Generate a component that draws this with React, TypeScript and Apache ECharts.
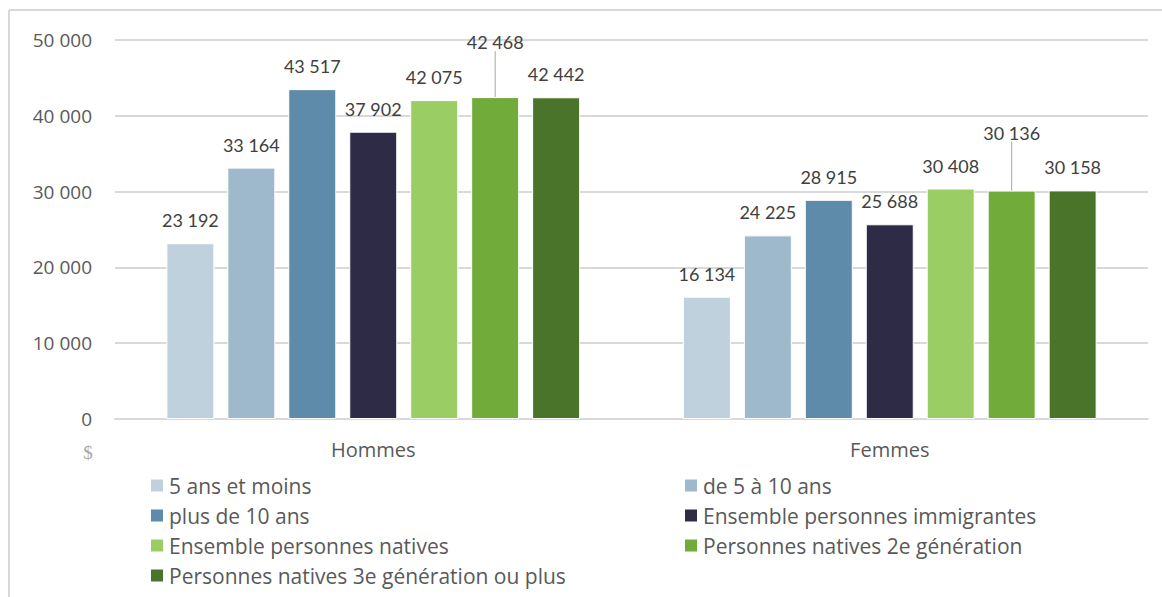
import React, { useEffect, useRef } from "react";
import * as echarts from "echarts";

const categories = ["Hommes", "Femmes"];
const seriesNames = [
  "5 ans et moins",
  "de 5 à 10 ans",
  "plus de 10 ans",
  "Ensemble personnes immigrantes",
  "Ensemble personnes natives",
  "Personnes natives 2e génération",
  "Personnes natives 3e génération ou plus",
];
const s0 = [23192, 16134];
const s1 = [33164, 24225];
const s2 = [43517, 28915];
const s3 = [37902, 25688];
const s4 = [42075, 30408];
const s5 = [42468, 30136];
const s6 = [42442, 30158];
const seriesValues = [s0, s1, s2, s3, s4, s5, s6];
const colors = ["#bfd1dd", "#9fb9cc", "#5f8bab", "#2e2b46", "#9bcd65", "#71ab3a", "#4a7429"];
const yTicks = { min: 0, max: 50000, interval: 10000 };

const FONT = "Lato, 'Open Sans', sans-serif";
const WIDE = "'Open Sans', sans-serif";
const fmt = (v: number) => String(v).replace(/\B(?=(\d{3})+(?!\d))/g, " ");

export default function App() {
  const ref = useRef<HTMLDivElement>(null);
  useEffect(() => {
    document.body.style.margin = "0";
    const chart = echarts.init(ref.current!, null, { renderer: "svg" });
    const series = seriesNames.map((name, i) => ({
      name,
      type: "bar",
      data: seriesValues[i],
      barWidth: 48,
      barGap: "27%",
      itemStyle: { color: colors[i], borderColor: "#ffffff", borderWidth: 1 },
      label: {
        show: true,
        position: "top",
        distance: 14,
        formatter: (p: any) => fmt(p.value),
        color: "#404040",
        fontSize: 18,
        fontFamily: FONT,
      },
      labelLine: i === 5 ? { show: true, lineStyle: { color: "#a6a6a6", width: 1 } } : { show: false },
      labelLayout: i === 5 ? (p: any) => ({ dy: p.dataIndex === 0 ? -32 : -35 }) : undefined,
    }));
    const legendBase = {
      orient: "vertical",
      top: 475,
      padding: 0,
      itemWidth: 14,
      itemHeight: 14,
      itemGap: 9,
      icon: "rect",
      textStyle: { color: "#595959", fontSize: 21, fontFamily: WIDE, lineHeight: 20, height: 20 },
    };
    chart.setOption({
      animation: false,
      backgroundColor: "#ffffff",
      color: colors,
      grid: { left: 115, right: 14, top: 40, bottom: 178, containLabel: false },
      legend: [
        { ...legendBase, left: 149, data: [seriesNames[0], seriesNames[2], seriesNames[4], seriesNames[6]] },
        { ...legendBase, left: 683, data: [seriesNames[1], seriesNames[3], seriesNames[5]] },
      ],
      xAxis: {
        type: "category",
        data: categories,
        axisLine: { lineStyle: { color: "#d9d9d9", width: 2 } },
        axisTick: { show: false },
        axisLabel: { color: "#595959", fontSize: 20, fontFamily: WIDE, margin: 20 },
      },
      yAxis: {
        type: "value",
        min: yTicks.min,
        max: yTicks.max,
        interval: yTicks.interval,
        axisLine: { show: false },
        axisTick: { show: false },
        splitLine: { lineStyle: { color: "#d9d9d9", width: 2 } },
        axisLabel: { color: "#595959", fontSize: 19, fontFamily: WIDE, margin: 23, formatter: (v: number) => fmt(v) },
      },
      graphic: [
        { type: "line", shape: { x1: 9, y1: 10, x2: 9, y2: 597 }, style: { stroke: "#d9d9d9", lineWidth: 2 } },
        { type: "line", shape: { x1: 9, y1: 10, x2: 1162, y2: 10 }, style: { stroke: "#d9d9d9", lineWidth: 2 } },
        {
          type: "text",
          x: 88,
          y: 452,
          style: { text: "$", fill: "#a6a6a6", fontSize: 19, fontFamily: "'Liberation Serif', serif", align: "center", verticalAlign: "middle" },
        },
      ],
      series,
    });
    return () => chart.dispose();
  }, []);
  return <div ref={ref} style={{ width: 1162, height: 597 }} />;
}
